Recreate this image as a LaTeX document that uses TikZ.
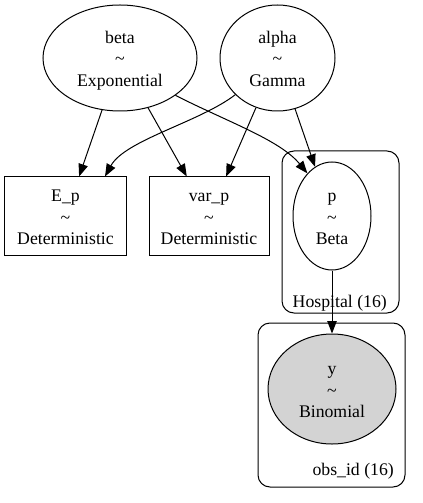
\documentclass[tikz,border=0pt]{standalone}
\usepackage{fontspec}
\setmainfont{Liberation Serif}
\usetikzlibrary{shapes.geometric,arrows.meta}
\newcommand{\tri}[3]{\rule{0pt}{19bp}#1\\\textasciitilde\\\rule[-5bp]{0pt}{5bp}#3}
\begin{document}
\begin{tikzpicture}[x=1bp,y=-1bp,
  every node/.style={font=\fontsize{17.8}{21.7}\selectfont, align=center, inner sep=0pt},
  rv/.style={ellipse, draw, line width=1bp},
  detbox/.style={rectangle, draw, line width=1bp},
  edge/.style={line width=1bp, -{Triangle[length=12.5bp,width=9.5bp]}},
  plate/.style={draw, line width=1bp, rounded corners=12bp}]
\useasboundingbox (0,0) rectangle (422,503);
% plates
\draw[plate] (282,151) rectangle (399,313);
\draw[plate] (258,323) rectangle (405,487);
\node[anchor=base east] (hosp) at (387,307) {Hospital (16)};
\node[anchor=base east] (obs) at (394,475) {obs\_id (16)};
% nodes
\node[rv, minimum width=154bp, minimum height=106bp] (beta) at (120,58) {\tri{beta}{}{Exponential}};
\node[rv, minimum width=115bp, minimum height=106bp] (alpha) at (277.5,58) {\tri{alpha}{}{Gamma}};
\node[detbox, minimum width=121bp, minimum height=78bp] (Ep) at (65.5,216) {\tri{E\_p}{}{Deterministic}};
\node[detbox, minimum width=120bp, minimum height=78bp] (varp) at (209,216) {\tri{var\_p}{}{Deterministic}};
\node[rv, minimum width=78bp, minimum height=108bp] (p) at (332,216) {\tri{p}{}{Beta}};
\node[rv, fill={rgb,255:red,211;green,211;blue,211}, minimum width=128bp, minimum height=110bp] (y) at (332,389) {\tri{y}{}{Binomial}};
% edges
\draw[edge] (beta) -- (Ep);
\draw[edge] (beta) -- (varp);
\draw[edge] (alpha) -- (varp);
\draw[edge] (alpha) -- (p);
\draw[edge] (beta.-34) .. controls (228,122) and (280,140) .. (p.120);
\draw[edge] (alpha.221) .. controls (200,122) and (125,140) .. (Ep.45);
\draw[edge] (p) -- (y);
\end{tikzpicture}
\end{document}
